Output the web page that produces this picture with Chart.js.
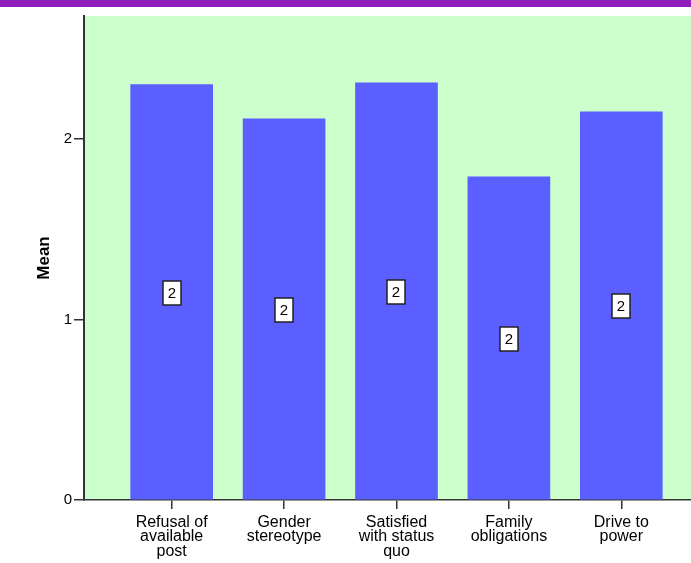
<!DOCTYPE html>
<html>
<head>
<meta charset="utf-8">
<script src="https://cdn.jsdelivr.net/npm/chart.js@4.4.1/dist/chart.umd.min.js"></script>
<style>
  html, body { margin: 0; padding: 0; background: #fff; overflow: hidden; }
  #topbar { position: absolute; left: 0; top: 0; width: 691px; height: 7px; background: #8e1fbb; }
  #wrap { position: absolute; left: 0; top: 0; width: 691px; height: 563px; }
</style>
</head>
<body>
<div id="wrap"><canvas id="chart" width="691" height="563"></canvas></div>
<div id="topbar"></div>
<script>
// categories (multi-line tick labels), one bar each
const categories = [
  ['Refusal of', 'available', 'post'],
  ['Gender', 'stereotype'],
  ['Satisfied', 'with status', 'quo'],
  ['Family', 'obligations'],
  ['Drive to', 'power']
];
const means = [2.30, 2.11, 2.31, 1.79, 2.15];
const yTicks = [0, 1, 2];

const FONT = '"Liberation Sans", Arial, sans-serif';

// green plot background
const plotBg = {
  id: 'plotBg',
  beforeDraw(chart) {
    const { ctx, chartArea: a } = chart;
    ctx.save();
    ctx.fillStyle = '#ccffcc';
    ctx.fillRect(a.left, a.top, a.right - a.left, a.bottom - a.top);
    ctx.restore();
  }
};

// boxed value labels in the middle of each bar
const boxLabels = {
  id: 'boxLabels',
  afterDatasetsDraw(chart) {
    const ctx = chart.ctx;
    const meta = chart.getDatasetMeta(0);
    ctx.save();
    ctx.font = '15px ' + FONT;
    ctx.textAlign = 'center';
    ctx.textBaseline = 'middle';
    meta.data.forEach((bar, i) => {
      const cx = Math.round(bar.x);
      const cy = Math.round((bar.y + bar.base) / 2) + 1;
      const w = 18, h = 24;
      ctx.fillStyle = '#fff';
      ctx.fillRect(cx - w / 2, cy - h / 2, w, h);
      ctx.strokeStyle = '#222';
      ctx.lineWidth = 1.5;
      ctx.strokeRect(cx - w / 2, cy - h / 2, w, h);
      ctx.fillStyle = '#000';
      ctx.fillText(String(Math.round(means[i])), cx, cy + 1);
    });
    ctx.restore();
  }
};

new Chart(document.getElementById('chart').getContext('2d'), {
  type: 'bar',
  data: {
    datasets: [{
      data: means.map((v, i) => ({ x: i, y: v })),
      backgroundColor: '#5b5fff',
      borderWidth: 0,
      barThickness: 82
    }]
  },
  options: {
    responsive: false,
    animation: false,
    layout: { padding: { top: 16, right: 0, left: 0, bottom: 0 } },
    plugins: { legend: { display: false }, tooltip: { enabled: false } },
    scales: {
      x: {
        type: 'linear',
        offset: false,
        min: -0.78,
        max: 4.62,
        afterBuildTicks(scale) {
          scale.ticks = categories.map((c, i) => ({ value: i }));
        },
        afterFit(scale) { scale.height = 63; },
        ticks: {
          autoSkip: false,
          maxRotation: 0,
          padding: 6,
          color: '#000',
          font: { family: FONT, size: 16, lineHeight: 0.92 },
          callback: (v) => categories[v]
        },
        grid: { offset: false, drawOnChartArea: false, tickLength: 9, color: '#333', lineWidth: 1.5 },
        border: { color: '#333', width: 1.5 }
      },
      y: {
        min: 0,
        max: 2.68,
        afterBuildTicks(scale) {
          scale.ticks = yTicks.map(v => ({ value: v }));
        },
        afterFit(scale) { scale.width = 84; },
        ticks: {
          padding: 2,
          color: '#000',
          font: { family: FONT, size: 15 }
        },
        grid: { drawOnChartArea: false, tickLength: 10, color: '#333', lineWidth: 1.5 },
        border: { color: '#333', width: 2 },
        title: {
          display: true,
          text: 'Mean',
          color: '#000',
          font: { family: FONT, size: 17, weight: 'bold' },
          padding: { top: 34, bottom: 0 }
        }
      }
    }
  },
  plugins: [plotBg, boxLabels]
});
</script>
</body>
</html>
